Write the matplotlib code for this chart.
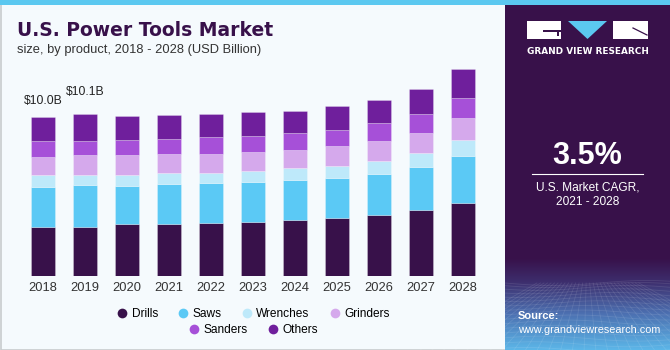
import numpy as np
import matplotlib
matplotlib.use("Agg")
import matplotlib.pyplot as plt
from matplotlib.patches import Rectangle, Polygon
from matplotlib.lines import Line2D

plt.rcParams['font.family'] = ['Liberation Sans', 'DejaVu Sans']

# data (USD billion)
years = ['2018', '2019', '2020', '2021', '2022', '2023', '2024', '2025', '2026', '2027', '2028']
drills   = [3.10, 3.08, 3.25, 3.25, 3.31, 3.42, 3.52, 3.65, 3.86, 4.13, 4.57]
saws     = [2.47, 2.62, 2.41, 2.52, 2.53, 2.50, 2.53, 2.52, 2.58, 2.70, 2.99]
wrenches = [0.76, 0.65, 0.69, 0.73, 0.65, 0.71, 0.77, 0.75, 0.82, 0.88, 1.01]
grinders = [1.16, 1.26, 1.26, 1.16, 1.18, 1.19, 1.13, 1.24, 1.26, 1.30, 1.35]
sanders  = [0.97, 0.90, 0.94, 0.94, 1.07, 1.01, 1.05, 1.03, 1.09, 1.19, 1.30]
others   = [1.54, 1.66, 1.51, 1.53, 1.43, 1.47, 1.40, 1.49, 1.45, 1.55, 1.79]

series_names = ['Drills', 'Saws', 'Wrenches', 'Grinders', 'Sanders', 'Others']
colors = ['#38114A', '#5BC9F5', '#BEE9FA', '#D5A9EC', '#A650D8', '#6F1F9C']
value_labels = {0: '$10.0B', 1: '$10.1B'}

BG = '#F5FAFD'
PANEL = '#38114A'
CYAN = '#5BC8F0'

W, H = 670, 350
fig = plt.figure(figsize=(6.7, 3.5), dpi=100)
fig.patch.set_facecolor(BG)

# background layer in pixel coordinates
bg = fig.add_axes([0, 0, 1, 1], zorder=0)
bg.set_xlim(0, W)
bg.set_ylim(H, 0)
bg.axis('off')

bg.add_patch(Rectangle((0.5, 0.5), W - 1, H - 1, facecolor='none', edgecolor='#C8CCCE', lw=1.2))
bg.add_patch(Rectangle((505, 0), W - 505, H, facecolor=PANEL, edgecolor='none'))

# gradient + mesh at the bottom of the side panel
grad_top, grad_bot = 258, H
cmap = matplotlib.colors.LinearSegmentedColormap.from_list(
    'gvr', [(0, PANEL), (0.25, '#3D2D6C'), (0.6, '#4C6FB0'), (1.0, '#5CB6E8')])
g = np.linspace(0, 1, 200).reshape(-1, 1)
bg.imshow(g, cmap=cmap, extent=[505, W, grad_bot, grad_top], aspect='auto', zorder=1)
for k in range(16):
    t = k / 15
    yy = 283 + (H - 283) * t ** 1.3
    xs = np.linspace(505, W, 40)
    bg.plot(xs, yy + 2.5 * np.sin((xs - 505) / 30 + t * 4), color='white', alpha=0.1, lw=0.6, zorder=2)
for xb in np.linspace(420, 760, 30):
    bg.plot([587 + (xb - 587) * 0.3, xb], [283, H], color='white', alpha=0.1, lw=0.6, zorder=2)

bg.add_patch(Rectangle((0, 0), W, 5, facecolor=CYAN, edgecolor='none', zorder=3))

# logo
bg.add_patch(Rectangle((527, 21), 34, 18, facecolor='white', edgecolor='none', zorder=3))
bg.add_patch(Rectangle((543, 30), 18, 2, facecolor=PANEL, edgecolor='none', zorder=4))
bg.add_patch(Rectangle((557, 30), 2, 6, facecolor=PANEL, edgecolor='none', zorder=4))
bg.add_patch(Polygon([(568, 21), (607, 21), (587.5, 39)], closed=True, facecolor=CYAN, edgecolor='none', zorder=3))
bg.add_patch(Rectangle((613, 21), 35, 18, facecolor='white', edgecolor='none', zorder=3))
bg.plot([633, 647], [28, 35], color=PANEL, lw=0.9, zorder=4)
bg.text(587.5, 51, 'GRAND VIEW RESEARCH', color='white', fontsize=6.4, fontweight='bold',
        family='DejaVu Sans', ha='center', va='center', zorder=4)

# CAGR block
bg.text(587.5, 156, '3.5%', color='white', fontsize=22, fontweight='bold', ha='center', va='center', zorder=4)
bg.plot([532, 643], [173.5, 173.5], color='white', lw=0.8, zorder=4)
bg.text(587.5, 187, 'U.S. Market CAGR,', color='white', fontsize=8.6, ha='center', va='center', zorder=4)
bg.text(587.5, 202, '2021 - 2028', color='white', fontsize=8.6, ha='center', va='center', zorder=4)

bg.text(518, 316, 'Source:', color='white', fontsize=8, fontweight='bold', ha='left', va='center', zorder=4)
bg.text(518, 330, 'www.grandviewresearch.com', color='white', fontsize=7.8, ha='left', va='center', zorder=4)

# titles
bg.text(17, 36, 'U.S. Power Tools Market', color='#38114A', fontsize=13.5, fontweight='bold',
        family='DejaVu Sans', ha='left', va='baseline', zorder=4)
bg.text(17, 53, 'size, by product, 2018 - 2028 (USD Billion)', color='#333333', fontsize=9.3,
        ha='left', va='baseline', zorder=4)

# chart
ax = fig.add_axes([22 / W, 74 / H, 462 / W, 206.7 / H], zorder=2)
ax.patch.set_alpha(0)
x = np.arange(len(years))
bottom = np.zeros(len(years))
for name, vals, c in zip(series_names, [drills, saws, wrenches, grinders, sanders, others], colors):
    ax.bar(x, vals, width=0.57, bottom=bottom, color=c, label=name,
           edgecolor=(1, 1, 1, 0.35), linewidth=0.5)
    bottom += np.array(vals)

offsets = {0: 7, 1: 12}
for i, txt in value_labels.items():
    ax.annotate(txt, (x[i], bottom[i]), xytext=(0, offsets[i]), textcoords='offset points',
                ha='center', va='bottom', fontsize=8.7, color='#222222', annotation_clip=False)

ax.set_xlim(-0.5, len(years) - 0.5)
ax.set_ylim(0, 13)
ax.set_xticks(x)
ax.set_xticklabels(years, fontsize=9.3, color='#333333')
ax.tick_params(axis='x', length=0, pad=4)
ax.set_yticks([])
for s in ax.spines.values():
    s.set_visible(False)

# legend in two centered rows
handles = [Line2D([], [], marker='o', ls='none', markersize=7, markerfacecolor=c, markeredgecolor='none')
           for c in colors]
leg1 = ax.legend(handles[:4], series_names[:4], loc='center', bbox_to_anchor=(0.5, -0.185), ncol=4,
                 frameon=False, fontsize=8.6, handletextpad=0.3, columnspacing=1.6, handlelength=1.0)
ax.add_artist(leg1)
ax.legend(handles[4:], series_names[4:], loc='center', bbox_to_anchor=(0.5, -0.26), ncol=2,
          frameon=False, fontsize=8.6, handletextpad=0.3, columnspacing=1.6, handlelength=1.0)

fig.savefig('out.png', dpi=100, facecolor=BG)
